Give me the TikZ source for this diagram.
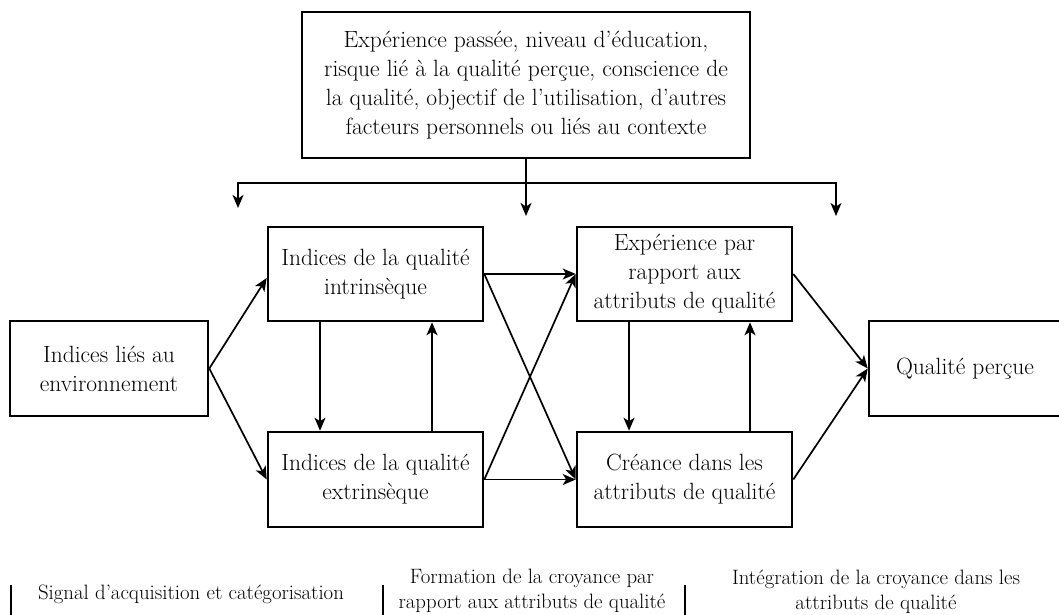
\documentclass[tikz,border=0pt]{standalone}
\usetikzlibrary{arrows.meta,calc}
\begin{document}
\begin{tikzpicture}[x=1pt,y=-1pt,
  box/.style={draw,line width=2.6pt,rectangle,inner sep=0pt,align=center,
    font=\fontsize{23.5}{29}\selectfont},
  tip/.tip={Stealth[length=13pt,width=11pt,inset=3.5pt]},
  conn/.style={line width=1.7pt,-tip},
  plain/.style={line width=1.7pt},
  lbl/.style={align=center,inner sep=0pt,font=\fontsize{20.8}{25}\selectfont},
  bar/.style={line width=1.8pt}]
\useasboundingbox (0,0) rectangle (1059,615);

\node[box,minimum width=448pt,minimum height=146pt] (top) at (526,85)
  {Expérience passée, niveau d’éducation,\\
   risque lié à la qualité perçue, conscience de\\
   la qualité, objectif de l’utilisation, d’autres\\
   facteurs personnels ou liés au contexte};

\node[box,minimum width=198pt,minimum height=95pt] (env) at (109,368.5)
  {Indices liés au\\environnement};
\node[box,minimum width=215pt,minimum height=94pt] (intr) at (375.5,274)
  {Indices de la qualité\\intrinsèque};
\node[box,minimum width=215pt,minimum height=95pt] (extr) at (375.5,479.5)
  {Indices de la qualité\\extrinsèque};
\node[box,minimum width=215pt,minimum height=94pt] (exp) at (684.5,274)
  {Expérience par\\rapport aux\\attributs de qualité};
\node[box,minimum width=215pt,minimum height=95pt] (cre) at (684.5,479.5)
  {Créance dans les\\attributs de qualité};
\node[box,minimum width=192pt,minimum height=95pt] (qual) at (965,368.5)
  {Qualité perçue};

% distribution from the top box
\coordinate (mt) at (526,216);
\coordinate (hl) at (238,183);
\coordinate (hr) at (836,183);
\coordinate (lt) at (238,208);
\coordinate (rt) at (836,216);
\draw[conn] (top.south) -- (mt);
\draw[plain,tip-tip] (lt) -- (hl) -- (hr) -- (rt);

% environment to cues
\draw[conn] (env.east) -- ($(intr.west)+(0,4)$);
\draw[conn] (env.east) -- (extr.west);

% between cues
\draw[conn] ([xshift=-55.5pt]intr.south) -- ([xshift=-55.5pt]extr.north);
\draw[conn] ([xshift=56.5pt]extr.north) -- ([xshift=56.5pt]intr.south);

% cues to beliefs
\draw[conn] (intr.east) -- (exp.west);
\draw[conn] (intr.east) -- (cre.west);
\draw[conn] (extr.east) -- (exp.west);
\draw[conn] (extr.east) -- (cre.west);

% between beliefs
\draw[conn] ([xshift=-55.5pt]exp.south) -- ([xshift=-55.5pt]cre.north);
\draw[conn] ([xshift=65.5pt]cre.north) -- ([xshift=65.5pt]exp.south);

% to perceived quality
\draw[conn] (exp.east) -- (qual.west);
\draw[conn] (cre.east) -- (qual.west);

% bottom stages
\draw[bar] (11,585) -- (11,615);
\draw[bar] (383,585) -- (383,615);
\draw[bar] (685,585) -- (685,615);
\node[lbl] (s1) at (191,594) {Signal d’acquisition et catégorisation};
\node[lbl] (s2) at (532,591) {Formation de la croyance par\\rapport aux attributs de qualité};
\node[lbl] (s3) at (876,592) {Intégration de la croyance dans les\\attributs de qualité};
\end{tikzpicture}
\end{document}
